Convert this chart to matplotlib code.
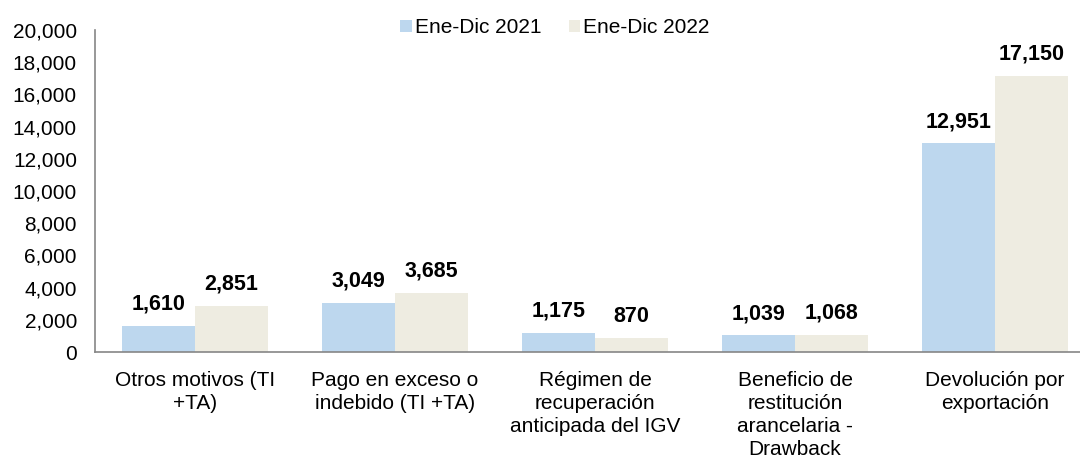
import matplotlib
matplotlib.use("Agg")
import matplotlib.pyplot as plt
from matplotlib.ticker import FuncFormatter
import numpy as np

categories = ["Otros motivos (TI\n+TA)", "Pago en exceso o\nindebido (TI +TA)",
              "Régimen de\nrecuperación\nanticipada del IGV",
              "Beneficio de\nrestitución\narancelaria -\nDrawback",
              "Devolución por\nexportación"]
series_names = ["Ene-Dic 2021", "Ene-Dic 2022"]
values_2021 = [1610, 3049, 1175, 1039, 12951]
values_2022 = [2851, 3685, 870, 1068, 17150]
yticks = list(range(0, 20001, 2000))

plt.rcParams['font.family'] = ['Liberation Sans', 'DejaVu Sans']
colors = ["#BDD7EE", "#EEECE1"]

fig = plt.figure(figsize=(10.8, 4.59), dpi=100)
ax = fig.add_axes([95/1080, 1-352/459, 1-95/1080, (352-30)/459])

x = np.arange(len(categories))
w = 0.365
b1 = ax.bar(x - w/2, values_2021, w, color=colors[0], label=series_names[0])
b2 = ax.bar(x + w/2, values_2022, w, color=colors[1], label=series_names[1])

for bars, vals in ((b1, values_2021), (b2, values_2022)):
    for r, v in zip(bars, vals):
        ax.annotate(f"{v:,}", (r.get_x() + r.get_width()/2, v), xytext=(0, 8),
                    textcoords="offset points", ha="center", va="bottom",
                    fontsize=15.5, fontweight="bold")

ax.set_xlim(-0.5, -0.5 + 985/200)
ax.set_ylim(0, 20000)
ax.set_yticks(yticks)
ax.yaxis.set_major_formatter(FuncFormatter(lambda v, p: f"{int(v):,}"))
ax.set_xticks(x)
ax.set_xticklabels(categories, fontsize=15, linespacing=1.25)
ax.tick_params(axis='y', labelsize=15, length=0, pad=13)
ax.tick_params(axis='x', length=0, pad=14)
for s in ("top", "right"):
    ax.spines[s].set_visible(False)
for s in ("left", "bottom"):
    ax.spines[s].set_color("#868686")
    ax.spines[s].set_linewidth(1.2)

ax.legend(loc="upper center", bbox_to_anchor=(0.5 - 0.033, 1.095), ncol=2, frameon=False,
          fontsize=15, handlelength=0.55, handleheight=0.55, handletextpad=0.15,
          columnspacing=1.3)

fig.savefig("out.png", dpi=100)
